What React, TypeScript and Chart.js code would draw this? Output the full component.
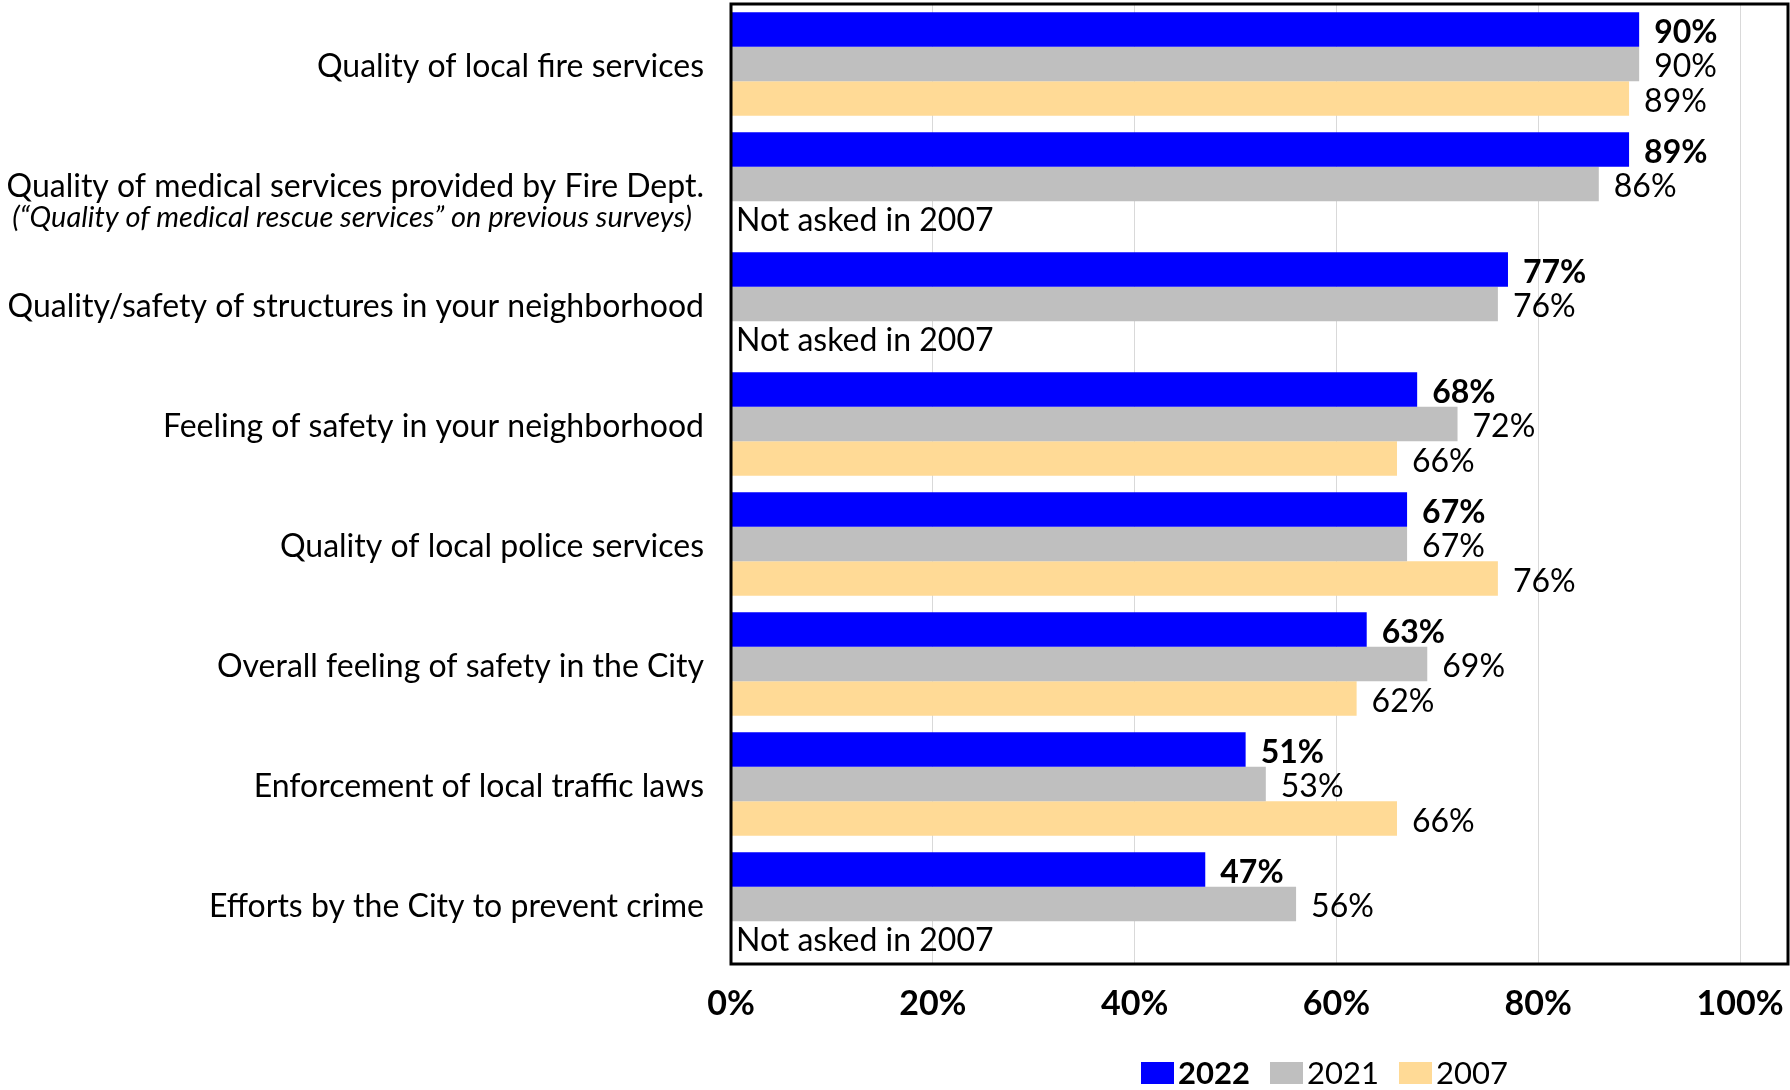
import React, { useEffect, useRef } from "react";
import { Chart, registerables } from "chart.js";

Chart.register(...registerables);

const categories = [
  "Quality of local fire services",
  "Quality of medical services provided by Fire Dept.",
  "Quality/safety of structures in your neighborhood",
  "Feeling of safety in your neighborhood",
  "Quality of local police services",
  "Overall feeling of safety in the City",
  "Enforcement of local traffic laws",
  "Efforts by the City to prevent crime",
];
const subtitles = [
  "",
  "(\u201CQuality of medical rescue services\u201D on previous surveys)",
  "",
  "",
  "",
  "",
  "",
  "",
];
const seriesLabels = ["2022", "2021", "2007"];
const values2022 = [90, 89, 77, 68, 67, 63, 51, 47];
const values2021 = [90, 86, 76, 72, 67, 69, 53, 56];
const values2007: (number | null)[] = [89, null, null, 66, 76, 62, 66, null];
const xTickValues = [0, 20, 40, 60, 80, 100];
const notAskedText = "Not asked in 2007";

const COLORS = ["#0000FF", "#BFBFBF", "#FFDA96"];
const FONT = "Lato, 'Open Sans', sans-serif";
const SIZE = 32;
const LEGEND_X = [1141, 1270, 1399];

const overlayPlugin = {
  id: "overlay",
  afterDatasetsDraw(chart: any) {
    const ctx = chart.ctx;
    const area = chart.chartArea;
    const yScale = chart.scales.y;
    ctx.save();
    // bar value labels
    chart.data.datasets.forEach((ds: any, di: number) => {
      const meta = chart.getDatasetMeta(di);
      meta.data.forEach((el: any, i: number) => {
        const v = ds.data[i];
        ctx.fillStyle = "#000";
        ctx.textBaseline = "middle";
        ctx.textAlign = "left";
        if (v === null || v === undefined) {
          ctx.font = `${SIZE}px ${FONT}`;
          ctx.fillText(notAskedText, area.left + 5, el.y + 2);
          return;
        }
        ctx.font = `${di === 0 ? "bold " : ""}${SIZE}px ${FONT}`;
        ctx.fillText(`${v}%`, el.x + 15, el.y + 3);
      });
    });
    // category labels
    categories.forEach((c, i) => {
      const y = yScale.getPixelForValue(i);
      ctx.fillStyle = "#000";
      ctx.textAlign = "right";
      ctx.textBaseline = "middle";
      ctx.font = `${SIZE}px ${FONT}`;
      ctx.fillText(c, area.left - 27, y + 3);
      if (subtitles[i]) {
        ctx.font = `italic ${SIZE - 3}px ${FONT}`;
        ctx.fillText(subtitles[i], area.left - 39, y + 34);
      }
    });
    // frame
    ctx.strokeStyle = "#000";
    ctx.lineWidth = 3;
    ctx.strokeRect(area.left, area.top, area.right - area.left, area.bottom - area.top);
    // legend
    const ly = 1073;
    seriesLabels.forEach((s, i) => {
      const x = LEGEND_X[i];
      ctx.fillStyle = COLORS[i];
      ctx.fillRect(x, ly - 11, 33, 22);
      ctx.fillStyle = "#000";
      ctx.textAlign = "left";
      ctx.textBaseline = "middle";
      ctx.font = `${i === 0 ? "bold " : ""}${SIZE - 1}px ${FONT}`;
      ctx.fillText(s, x + 37, ly + 1);
    });
    ctx.restore();
  },
};

export default function App() {
  const ref = useRef<HTMLCanvasElement | null>(null);
  useEffect(() => {
    if (!ref.current) return;
    const chart = new Chart(ref.current, {
      type: "bar",
      data: {
        labels: categories,
        datasets: [
          { label: seriesLabels[0], data: values2022, backgroundColor: COLORS[0] },
          { label: seriesLabels[1], data: values2021, backgroundColor: COLORS[1] },
          { label: seriesLabels[2], data: values2007 as any, backgroundColor: COLORS[2] },
        ],
      },
      options: {
        indexAxis: "y",
        responsive: false,
        animation: false,
        devicePixelRatio: 1,
        layout: { padding: { left: 731, right: 2, top: 4, bottom: 0 } },
        datasets: {
          bar: { barPercentage: 1, categoryPercentage: 0.8625, borderWidth: 0 },
        },
        plugins: { legend: { display: false }, tooltip: { enabled: false } },
        scales: {
          y: { type: "category", display: false },
          x: {
            type: "linear",
            min: 0,
            max: 104.75,
            afterFit: (scale: any) => {
              scale.height = 126;
              scale.paddingLeft = 0;
              scale.paddingRight = 0;
            },
            afterBuildTicks: (scale: any) => {
              scale.ticks = xTickValues.map((v) => ({ value: v }));
            },
            ticks: {
              includeBounds: false,
              stepSize: 20,
              padding: 20,
              color: "#000",
              font: { family: FONT, size: SIZE + 2, weight: "bold" },
              callback: (v: any) => `${v}%`,
              maxRotation: 0,
            },
            grid: { color: "#D9D9D9", lineWidth: 1, drawTicks: false },
            border: { display: false },
          },
        },
      } as any,
      plugins: [overlayPlugin],
    });
    return () => chart.destroy();
  }, []);
  return (
    <div style={{ position: "fixed", left: 0, top: 0, width: 1790, height: 1090, background: "#fff" }}>
      <canvas ref={ref} width={1790} height={1090} style={{ display: "block" }} />
    </div>
  );
}
